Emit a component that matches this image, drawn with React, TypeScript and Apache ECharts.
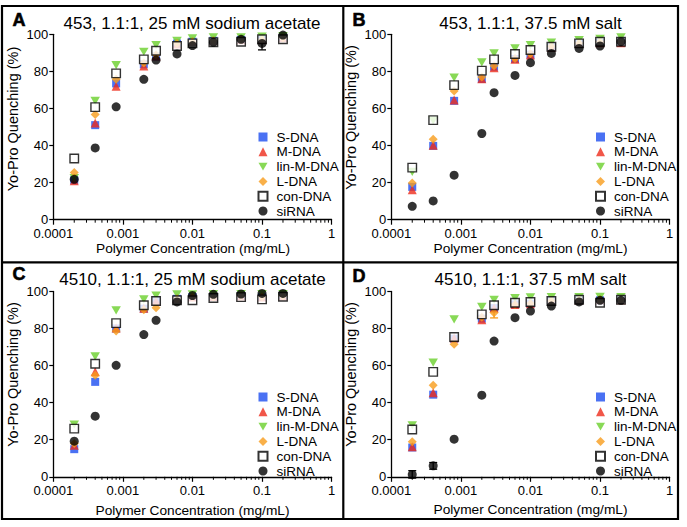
import React, { useEffect, useRef } from 'react';
import * as echarts from 'echarts';

// Polymer concentrations (mg/mL)
const concentrations = [0.0002, 0.0004, 0.0008, 0.002, 0.003, 0.006, 0.01, 0.02, 0.05, 0.1, 0.2];
const seriesNames = ['S-DNA', 'M-DNA', 'lin-M-DNA', 'L-DNA', 'con-DNA', 'siRNA'];
const yTicks = [0, 20, 40, 60, 80, 100];
const minorTickValues = [
  0.0002, 0.0003, 0.0004, 0.0005, 0.0006, 0.0007, 0.0008, 0.0009,
  0.002, 0.003, 0.004, 0.005, 0.006, 0.007, 0.008, 0.009,
  0.02, 0.03, 0.04, 0.05, 0.06, 0.07, 0.08, 0.09,
  0.2, 0.3, 0.4, 0.5, 0.6, 0.7, 0.8, 0.9,
];

// Panel A: 453, 25 mM sodium acetate
const panelA_S = [21.3, 51.0, 73.5, 83.8, 88.0, 95.0, 96.0, 96.5, 97.0, 97.0, 98.0];
const panelA_M = [21.0, 52.2, 72.0, 82.9, 88.3, 94.8, 96.2, 96.5, 97.0, 97.2, 98.2];
const panelA_lin = [22.5, 64.1, 83.4, 90.6, 94.2, 96.5, 97.8, 98.4, 98.4, 98.7, 99.0];
const panelA_L = [25.4, 56.8, 75.8, 84.5, 89.0, 95.0, 96.0, 96.5, 97.0, 97.0, 98.0];
const panelA_con = [33.0, 60.7, 78.9, 86.5, 91.1, 93.7, 95.1, 95.7, 96.0, 97.3, 97.3];
const panelA_si = [21.8, 38.7, 60.9, 75.7, 86.1, 89.4, 93.9, 95.7, 97.3, 95.1, 99.6];

// Panel B: 453, 37.5 mM salt
const panelB_S = [17.7, 39.8, 64.1, 75.9, 82.5, 86.7, 89.0, 93.0, 95.0, 95.5, 96.0];
const panelB_M = [16.2, 40.2, 64.5, 76.0, 82.0, 86.5, 88.8, 93.0, 95.0, 95.5, 95.5];
const panelB_lin = [25.8, 53.5, 76.6, 84.9, 89.7, 92.4, 94.2, 95.5, 96.9, 97.5, 98.4];
const panelB_L = [19.8, 43.4, 69.4, 77.0, 83.0, 87.0, 89.5, 93.5, 95.2, 95.8, 96.2];
const panelB_con = [28.1, 53.7, 72.6, 80.4, 86.5, 89.4, 91.5, 93.3, 95.1, 96.0, 96.0];
const panelB_si = [7.2, 10.1, 24.0, 46.5, 68.5, 77.8, 84.7, 89.7, 92.4, 93.7, 96.0];

// Panel C: 4510, 25 mM sodium acetate
const panelC_S = [14.9, 51.2, 80.0, 90.7, 95.0, 96.0, 97.0, 97.0, 97.5, 97.0, 97.5];
const panelC_M = [17.0, 56.6, 80.2, 90.9, 95.0, 96.2, 97.0, 97.2, 97.5, 97.0, 97.5];
const panelC_lin = [28.2, 65.0, 89.8, 95.7, 97.8, 98.4, 98.4, 98.5, 98.5, 98.5, 98.5];
const panelC_L = [18.0, 54.8, 78.6, 90.1, 91.2, 96.0, 97.0, 97.0, 97.5, 97.0, 97.5];
const panelC_con = [26.0, 61.0, 82.9, 92.5, 94.8, 95.2, 95.2, 96.4, 96.9, 95.7, 97.1];
const panelC_si = [19.2, 32.7, 60.1, 76.7, 84.4, 94.3, 97.8, 98.4, 98.6, 98.9, 98.9];

// Panel D: 4510, 37.5 mM salt
const panelD_S = [15.8, 44.3, 74.5, 85.3, 91.0, 93.0, 93.4, 95.0, 95.5, 95.2, 95.5];
const panelD_M = [16.2, 45.4, 74.8, 84.7, 91.0, 93.0, 93.4, 95.0, 95.5, 95.5, 95.5];
const panelD_lin = [27.8, 61.6, 84.9, 91.6, 95.5, 96.4, 96.8, 96.9, 96.9, 97.1, 96.9];
const panelD_L = [18.9, 49.4, 71.5, 86.0, 88.5, 93.0, 93.5, 95.0, 95.5, 95.5, 95.5];
const panelD_con = [25.5, 56.6, 75.4, 87.6, 92.5, 93.9, 94.3, 94.8, 95.5, 93.9, 95.5];
const panelD_si = [1.3, 5.9, 20.3, 44.0, 73.2, 85.8, 89.4, 92.1, 94.3, 95.2, 95.2];

// Error bars: [concentration, mean, sd] with series name
const errorsA = [{ name: 'siRNA', bars: [[0.1, 95.1, 3.5]] }];
const errorsB: { name: string; bars: number[][] }[] = [];
const errorsC: { name: string; bars: number[][] }[] = [];
const errorsD = [
  { name: 'siRNA', bars: [[0.0002, 1.3, 2.0], [0.0004, 5.9, 1.8]] },
  { name: 'L-DNA', bars: [[0.003, 88.5, 2.8]] },
];

const titles = [
  '453, 1.1:1, 25 mM sodium acetate',
  '453, 1.1:1, 37.5 mM salt',
  '4510, 1.1:1, 25 mM sodium acetate',
  '4510, 1.1:1, 37.5 mM salt',
];
const letters = ['A', 'B', 'C', 'D'];
const xAxisName = 'Polymer Concentration (mg/mL)';
const yAxisName = 'Yo-Pro Quenching (%)';

const FONT = "'Liberation Sans', Arial, sans-serif";
const colors: Record<string, string> = {
  'S-DNA': '#1d4ef0',
  'M-DNA': '#ee2c1c',
  'lin-M-DNA': '#6acf2c',
  'L-DNA': '#f89c1c',
  'con-DNA': '#000000',
  siRNA: '#000000',
};

const panels = [
  { values: [panelA_S, panelA_M, panelA_lin, panelA_L, panelA_con, panelA_si], errors: errorsA },
  { values: [panelB_S, panelB_M, panelB_lin, panelB_L, panelB_con, panelB_si], errors: errorsB },
  { values: [panelC_S, panelC_M, panelC_lin, panelC_L, panelC_con, panelC_si], errors: errorsC },
  { values: [panelD_S, panelD_M, panelD_lin, panelD_L, panelD_con, panelD_si], errors: errorsD },
];

const gridW = 278.3;
const gridH = 185.4;
const gridPos = [
  { left: 53.3, top: 34.3 },
  { left: 391.3, top: 34.3 },
  { left: 53.3, top: 291.4 },
  { left: 391.3, top: 291.4 },
];
const titlePos = [
  { x: 192, y: 23 },
  { x: 530.5, y: 23 },
  { x: 192.5, y: 279 },
  { x: 530.5, y: 279.3 },
];
const letterPos = [
  { x: 12.5, y: 19.5 },
  { x: 352.5, y: 19.5 },
  { x: 12.5, y: 273.5 },
  { x: 352.5, y: 276 },
];
const yNamePos = [
  { x: 12.7, y: 119 },
  { x: 351.3, y: 117.5 },
  { x: 12.7, y: 374.5 },
  { x: 351.3, y: 374.5 },
];
const xNamePos = [
  { x: 193, y: 248.8 },
  { x: 530.5, y: 248.8 },
  { x: 192.5, y: 510.3 },
  { x: 530.5, y: 509.2 },
];
const legendPos = [
  { left: 257.5, top: 130 },
  { left: 595, top: 130 },
  { left: 257.5, top: 390 },
  { left: 595, top: 390 },
];

const DOWN_TRIANGLE = 'path://M0,0L10,0L5,8.7Z';

function symbolFor(name: string) {
  switch (name) {
    case 'S-DNA':
      return { symbol: 'rect', symbolSize: 8, itemStyle: { color: colors[name] } };
    case 'M-DNA':
      return { symbol: 'triangle', symbolSize: 9, itemStyle: { color: colors[name] } };
    case 'lin-M-DNA':
      return { symbol: DOWN_TRIANGLE, symbolSize: [9.5, 8.2], itemStyle: { color: colors[name] } };
    case 'L-DNA':
      return { symbol: 'diamond', symbolSize: 9, itemStyle: { color: colors[name] } };
    case 'con-DNA':
      return {
        symbol: 'rect',
        symbolSize: 8.5,
        itemStyle: { color: '#ffffff', borderColor: '#000000', borderWidth: 1.4 },
      };
    default:
      return { symbol: 'circle', symbolSize: 9, itemStyle: { color: colors[name] } };
  }
}

export default function App() {
  const ref = useRef<HTMLDivElement>(null);

  useEffect(() => {
    if (!ref.current) return;
    const chart = echarts.init(ref.current, undefined, { renderer: 'svg' });

    const grid: any[] = [];
    const xAxis: any[] = [];
    const yAxis: any[] = [];
    const legend: any[] = [];
    const series: any[] = [];
    const graphic: any[] = [];

    panels.forEach((panel, i) => {
      grid.push({ left: gridPos[i].left, top: gridPos[i].top, width: gridW, height: gridH });
      xAxis.push({
        gridIndex: i,
        type: 'log',
        logBase: 10,
        min: 0.0001,
        max: 1,
        axisLine: { show: true, lineStyle: { color: '#000', width: 1.3 } },
        axisTick: { show: true, length: 5, inside: false, lineStyle: { color: '#000', width: 1.2 } },
        axisLabel: {
          color: '#000',
          fontSize: 13,
          fontFamily: FONT,
          margin: 7,
          lineHeight: 13,
          formatter: (v: number) => Number(v.toPrecision(1)).toString(),
        },
        splitLine: { show: false },
      });
      yAxis.push({
        gridIndex: i,
        type: 'value',
        min: yTicks[0],
        max: yTicks[yTicks.length - 1],
        interval: 20,
        axisLine: { show: true, lineStyle: { color: '#000', width: 1.3 } },
        axisTick: { show: true, length: 4, inside: false, lineStyle: { color: '#000', width: 1.2 } },
        axisLabel: { color: '#000', fontSize: 13, fontFamily: FONT, margin: 5, lineHeight: 10 },
        splitLine: { show: false },
      });
      legend.push({
        orient: 'vertical',
        left: legendPos[i].left,
        top: legendPos[i].top,
        itemWidth: 9,
        itemHeight: 9,
        itemGap: 0.8,
        padding: 0,
        selectedMode: false,
        data: seriesNames,
        textStyle: { color: '#000', fontSize: 13.5, fontFamily: FONT, padding: [0, 0, 0, 4] },
      });

      // minor ticks along the log axis
      series.push({
        type: 'custom',
        name: 'minor-ticks-' + i,
        xAxisIndex: i,
        yAxisIndex: i,
        silent: true,
        clip: false,
        data: minorTickValues.map((v) => [v, 0]),
        renderItem: (params: any, api: any) => {
          const p = api.coord([api.value(0), 0]);
          return {
            type: 'line',
            shape: { x1: p[0], y1: p[1], x2: p[0], y2: p[1] + 3 },
            style: { stroke: '#000', lineWidth: 1 },
          };
        },
      });

      // error bars
      panel.errors.forEach((err) => {
        series.push({
          type: 'custom',
          name: 'err-' + err.name + '-' + i,
          xAxisIndex: i,
          yAxisIndex: i,
          silent: true,
          clip: false,
          data: err.bars,
          renderItem: (params: any, api: any) => {
            const x = api.value(0);
            const m = api.value(1);
            const sd = api.value(2);
            const top = api.coord([x, m + sd]);
            const bot = api.coord([x, m - sd]);
            const hw = 4;
            const st = { stroke: colors[err.name], lineWidth: 1.3 };
            return {
              type: 'group',
              children: [
                { type: 'line', shape: { x1: top[0], y1: top[1], x2: bot[0], y2: bot[1] }, style: st },
                { type: 'line', shape: { x1: top[0] - hw, y1: top[1], x2: top[0] + hw, y2: top[1] }, style: st },
                { type: 'line', shape: { x1: bot[0] - hw, y1: bot[1], x2: bot[0] + hw, y2: bot[1] }, style: st },
              ],
            };
          },
        });
      });

      seriesNames.forEach((name, k) => {
        series.push({
          type: 'scatter',
          name,
          xAxisIndex: i,
          yAxisIndex: i,
          data: concentrations.map((c, j) => [c, panel.values[k][j]]),
          ...symbolFor(name),
        });
      });

      graphic.push({
        type: 'text',
        x: titlePos[i].x,
        y: titlePos[i].y,
        style: {
          text: titles[i],
          fill: '#000',
          font: `17px ${FONT}`,
          textAlign: 'center',
          textVerticalAlign: 'middle',
        },
      });
      graphic.push({
        type: 'text',
        x: letterPos[i].x,
        y: letterPos[i].y,
        style: {
          text: letters[i],
          fill: '#000',
          font: `900 18px ${FONT}`,
          stroke: '#000',
          lineWidth: 0.6,
          textAlign: 'left',
          textVerticalAlign: 'middle',
        },
      });
      graphic.push({
        type: 'text',
        x: yNamePos[i].x,
        y: yNamePos[i].y,
        rotation: Math.PI / 2,
        style: {
          text: yAxisName,
          fill: '#000',
          font: `14.5px ${FONT}`,
          textAlign: 'center',
          textVerticalAlign: 'middle',
        },
      });
      graphic.push({
        type: 'text',
        x: xNamePos[i].x,
        y: xNamePos[i].y,
        style: {
          text: xAxisName,
          fill: '#000',
          font: `13.7px ${FONT}`,
          textAlign: 'center',
          textVerticalAlign: 'middle',
        },
      });
    });

    // panel frames
    graphic.push({
      type: 'rect',
      shape: { x: 2, y: 6, width: 676, height: 513 },
      style: { fill: 'none', stroke: '#000', lineWidth: 2.2 },
    });
    graphic.push({
      type: 'line',
      shape: { x1: 343.3, y1: 6, x2: 343.3, y2: 519 },
      style: { stroke: '#000', lineWidth: 2.2 },
    });
    graphic.push({
      type: 'line',
      shape: { x1: 2, y1: 262.3, x2: 678, y2: 262.3 },
      style: { stroke: '#000', lineWidth: 2.2 },
    });

    chart.setOption({
      animation: false,
      backgroundColor: '#ffffff',
      grid,
      xAxis,
      yAxis,
      legend,
      series,
      graphic,
    });

    return () => chart.dispose();
  }, []);

  return (
    <div
      ref={ref}
      style={{ position: 'absolute', left: 0, top: 0, width: 687, height: 527 }}
    />
  );
}
